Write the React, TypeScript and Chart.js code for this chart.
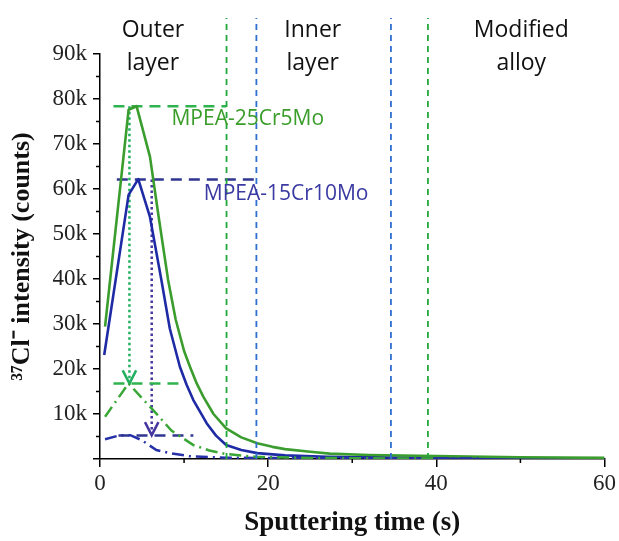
import { useEffect, useRef } from 'react';
import { Chart, registerables } from 'chart.js';

Chart.register(...registerables);

// ---- data ----
const green25Time = [0.6, 3.4, 4.35, 5.94, 7.0, 8.1, 9.0, 10.0, 10.7, 11.5, 12.3, 13.5, 15.0, 16.8, 18.7, 20.5, 22, 25, 27.3, 32, 40, 50, 60];
const green25Counts = [29400, 77600, 78400, 67200, 53500, 39800, 31000, 24000, 20500, 16800, 13800, 10000, 6800, 4800, 3500, 2700, 2200, 1600, 1200, 900, 650, 400, 250];

const blue15Time = [0.5, 3.4, 4.55, 5.94, 7.3, 8.3, 9.5, 10.3, 11.1, 12.7, 13.8, 15.0, 16.8, 18.7, 22, 27, 35, 45, 60];
const blue15Counts = [23100, 58700, 62200, 53800, 39800, 29000, 20500, 16500, 13100, 7900, 5200, 3100, 2000, 1300, 800, 500, 300, 200, 120];

const green25CompTime = [0.6, 3.4, 5.0, 6.7, 8.5, 11.1, 13.0, 15.0, 18.7, 25, 32, 40];
const green25CompCounts = [9400, 16800, 13500, 10100, 6300, 3100, 1900, 1100, 450, 250, 150, 100];

const blue15CompTime = [0.6, 2.4, 3.6, 4.95, 6.7, 8.3, 10.7, 15, 22, 32, 45];
const blue15CompCounts = [4400, 5300, 5300, 4200, 2000, 1300, 600, 300, 200, 150, 100];

// peak marker lines: [xStart, xEnd, level]
const greenPeakLine = [1.6, 15.0, 78400];
const bluePeakLine = [2.0, 18.6, 62100];
const greenCompLine = [1.6, 10.3, 16800];
const blueCompLine = [2.2, 11.1, 5200];

// dotted arrows: [x, yTop, yTip]
const greenArrow = [3.5, 78400, 16800];
const blueArrow = [6.15, 62100, 5300];
const arrowHalfWidth = 0.8;
const arrowHeight = 2900;

// boundary lines (s)
const greenBoundaries = [15.05, 39.0];
const blueBoundaries = [18.6, 34.6];
const boundaryTop = 98000;

const xTicks = [0, 20, 40, 60];
const xMinorTicks = [10, 30, 50];
const yTickLabels = ['', '10k', '20k', '30k', '40k', '50k', '60k', '70k', '80k', '90k'];
const yMinorTicks = [5000, 15000, 25000, 35000, 45000, 55000, 65000, 75000, 85000];

const regionNames = [['Outer', 'layer'], ['Inner', 'layer'], ['Modified', 'alloy']];
const regionCenters = [6.3, 25.3, 50.1];
const seriesNames = ['MPEA-25Cr5Mo', 'MPEA-15Cr10Mo'];

// ---- styles ----
const GREEN = '#3a9d2e';
const BLUE = '#1f2aa5';

const pts = (xs: number[], ys: number[]) => xs.map((x, i) => ({ x, y: ys[i] }));
const hLine = (l: number[]) => [{ x: l[0], y: l[2] }, { x: l[1], y: l[2] }];
const vArrow = (a: number[]) => [{ x: a[0], y: a[1] }, { x: a[0], y: a[2] }];
const vHead = (a: number[]) => [
  { x: a[0] - arrowHalfWidth, y: a[2] + arrowHeight },
  { x: a[0], y: a[2] },
  { x: a[0] + arrowHalfWidth, y: a[2] + arrowHeight },
];

const base = { pointRadius: 0, pointHoverRadius: 0, tension: 0, fill: false };

const annotationPlugin = {
  id: 'annot',
  afterDatasetsDraw(chart: any) {
    const { ctx, scales } = chart;
    const xs = scales.x;
    const ys = scales.y;
    ctx.save();
    // minor ticks
    ctx.strokeStyle = '#000';
    ctx.lineWidth = 1.5;
    ctx.beginPath();
    xMinorTicks.forEach((v) => {
      const px = xs.getPixelForValue(v);
      ctx.moveTo(px, ys.bottom);
      ctx.lineTo(px, ys.bottom + 4);
    });
    yMinorTicks.forEach((v) => {
      const py = ys.getPixelForValue(v);
      ctx.moveTo(xs.left, py);
      ctx.lineTo(xs.left - 4, py);
    });
    ctx.stroke();

    // region labels
    ctx.fillStyle = '#111';
    ctx.font = '23px "Open Sans"';
    ctx.textAlign = 'center';
    ctx.textBaseline = 'alphabetic';
    regionNames.forEach((lines, i) => {
      const px = xs.getPixelForValue(regionCenters[i]);
      ctx.fillText(lines[0], px, ys.top - 17);
      ctx.fillText(lines[1], px, ys.top + 16);
    });

    // series labels
    ctx.font = '21px "Open Sans"';
    ctx.textAlign = 'left';
    ctx.fillStyle = '#3a9d2a';
    ctx.fillText(seriesNames[0], xs.getPixelForValue(8.5), ys.getPixelForValue(74200));
    ctx.fillStyle = '#3a3aa2';
    ctx.fillText(seriesNames[1], xs.getPixelForValue(12.35), ys.getPixelForValue(57600));
    ctx.restore();
  },
};

export default function App() {
  const ref = useRef<HTMLCanvasElement>(null);

  useEffect(() => {
    if (!ref.current) return;
    const datasets: any[] = [
      ...greenBoundaries.map((b) => ({
        ...base,
        data: [{ x: b, y: 0 }, { x: b, y: boundaryTop }],
        borderColor: '#22a83a',
        borderWidth: 1.8,
        borderDash: [6, 5],
        clip: false,
      })),
      ...blueBoundaries.map((b) => ({
        ...base,
        data: [{ x: b, y: 0 }, { x: b, y: boundaryTop }],
        borderColor: '#2f6fd0',
        borderWidth: 1.8,
        borderDash: [6, 5],
        clip: false,
      })),
      { ...base, data: pts(green25CompTime, green25CompCounts), borderColor: '#3aa636', borderWidth: 2.5, borderDash: [12, 5, 2, 5] },
      { ...base, data: pts(blue15CompTime, blue15CompCounts), borderColor: '#2630a8', borderWidth: 2.5, borderDash: [12, 5, 2, 5] },
      { ...base, data: pts(green25Time, green25Counts), borderColor: GREEN, borderWidth: 2.6, borderJoinStyle: 'round' },
      { ...base, data: pts(blue15Time, blue15Counts), borderColor: BLUE, borderWidth: 2.6, borderJoinStyle: 'round' },
      { ...base, data: hLine(greenPeakLine), borderColor: '#2fb34f', borderWidth: 2.5, borderDash: [11, 7] },
      { ...base, data: hLine(bluePeakLine), borderColor: '#2f3590', borderWidth: 2.5, borderDash: [11, 7] },
      { ...base, data: hLine(greenCompLine), borderColor: '#2fb34f', borderWidth: 2.5, borderDash: [11, 7] },
      { ...base, data: hLine(blueCompLine), borderColor: '#2f3590', borderWidth: 2.5, borderDash: [11, 7] },
      { ...base, data: vArrow(greenArrow), borderColor: '#22b060', borderWidth: 2.5, borderDash: [2.5, 3] },
      { ...base, data: vArrow(blueArrow), borderColor: '#4636a0', borderWidth: 2.5, borderDash: [2.5, 3] },
      { ...base, data: vHead(greenArrow), borderColor: '#22b060', borderWidth: 2.5 },
      { ...base, data: vHead(blueArrow), borderColor: '#4636a0', borderWidth: 2.5 },
    ];

    const chart = new Chart(ref.current, {
      type: 'line',
      data: { datasets },
      plugins: [annotationPlugin],
      options: {
        responsive: false,
        animation: false,
        events: [],
        layout: { padding: { top: 54, right: 14, left: 0, bottom: 0 } },
        plugins: { legend: { display: false }, tooltip: { enabled: false } },
        scales: {
          x: {
            type: 'linear',
            min: 0,
            max: 60,
            afterFit: (s: any) => { s.height = 82; },
            afterBuildTicks: (s: any) => { s.ticks = xTicks.map((v) => ({ value: v })); },
            border: { display: true, color: '#000', width: 1.5 },
            grid: { display: true, drawOnChartArea: false, tickLength: 8, color: '#000', lineWidth: 1.5 },
            ticks: { color: '#222', font: { family: '"Liberation Serif"', size: 23 }, padding: 3, maxRotation: 0 },
            title: {
              display: true,
              text: 'Sputtering time (s)',
              color: '#111',
              font: { family: '"Liberation Serif"', size: 27, weight: 'bold' },
              padding: { top: 0, bottom: 2 },
            },
          },
          y: {
            type: 'linear',
            min: 0,
            max: 90000,
            afterFit: (s: any) => { s.width = 100; },
            border: { display: true, color: '#000', width: 1.5 },
            grid: { display: true, drawOnChartArea: false, tickLength: 7, color: '#000', lineWidth: 1.5 },
            ticks: {
              stepSize: 10000,
              color: '#222',
              padding: 6,
              font: { family: '"Liberation Serif"', size: 23 },
              callback: (_v: any, i: number) => yTickLabels[i] ?? '',
            },
            title: {
              display: true,
              text: '³⁷Cl⁻ intensity (counts)',
              color: '#111',
              font: { family: '"Liberation Serif"', size: 26, weight: 'bold' },
              padding: { top: 7, bottom: 0 },
            },
          },
        },
      } as any,
    });
    return () => chart.destroy();
  }, []);

  return (
    <div style={{ position: 'absolute', left: 0, top: 0, width: 619, height: 541, background: '#fff' }}>
      <canvas ref={ref} width={619} height={541} style={{ width: 619, height: 541, display: 'block' }} />
    </div>
  );
}
